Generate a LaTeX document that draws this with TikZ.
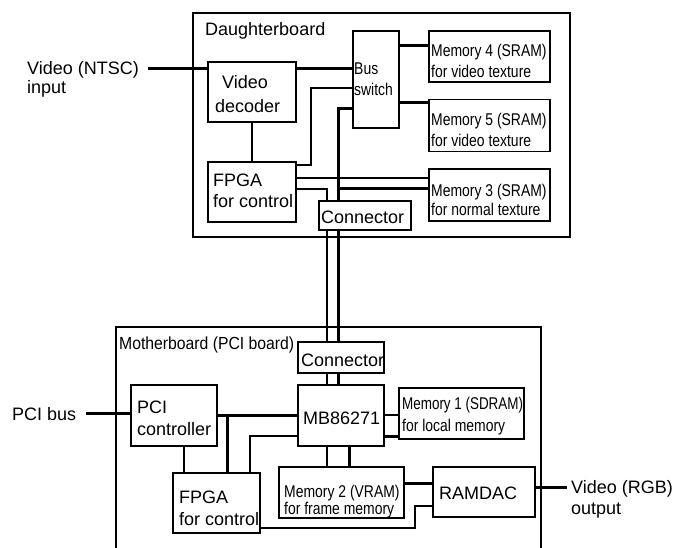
\documentclass[tikz,border=0pt]{standalone}
\usepackage{fontspec}
\setmainfont{Liberation Sans}
\newfontfamily\narrowfont{Liberation Sans}[FakeStretch=0.82]
\newfontfamily\tightfont{Liberation Sans}[FakeStretch=0.79]
\newfontfamily\semifont{Liberation Sans}[FakeStretch=0.9]
\begin{document}
\begin{tikzpicture}[x=1pt,y=-1pt,
  board/.style={draw, line width=1.1pt},
  box/.style={draw, line width=1.1pt, fill=white, rectangle, inner sep=0pt},
  wire/.style={line width=1.1pt},
  bus/.style={line width=3pt},
  txt/.style={anchor=base west, inner sep=0pt, font=\fontsize{18}{20}\selectfont},
  ntxt/.style={anchor=base west, inner sep=0pt, font=\narrowfont\fontsize{17}{19}\selectfont},
  ttxt/.style={anchor=base west, inner sep=0pt, font=\tightfont\fontsize{17}{19}\selectfont},
  stxt/.style={anchor=base west, inner sep=0pt, font=\semifont\fontsize{17.5}{19}\selectfont},
]
\useasboundingbox (0,0) rectangle (688,548);

% boards
\draw[board] (193,13) rectangle (570,237);
\begin{scope}
\clip (0,0) rectangle (688,548);
\draw[board] (116,327) rectangle (541,600);
\end{scope}

% daughterboard boxes
\node[box, minimum width=88pt, minimum height=60pt] (vdec) at (252,92) {};
\node[box, minimum width=46pt, minimum height=97pt] (bsw) at (376,79.5) {};
\node[box, minimum width=121pt, minimum height=51pt] (mem4) at (489.5,56.5) {};
\node[box, minimum width=121pt, minimum height=52pt] (mem5) at (489.5,125.5) {};
\node[box, minimum width=121pt, minimum height=52pt] (mem3) at (489.5,195) {};
\node[box, minimum width=88pt, minimum height=60pt] (fpgad) at (252,192) {};
\node[box, minimum width=92pt, minimum height=29pt] (cond) at (365,215.5) {};

% motherboard boxes
\node[box, minimum width=86pt, minimum height=31pt] (conm) at (341,357.5) {};
\node[box, minimum width=86pt, minimum height=61pt] (mb) at (341,415.5) {};
\node[box, minimum width=86pt, minimum height=61pt] (pci) at (174,415.5) {};
\node[box, minimum width=87pt, minimum height=60pt] (fpgam) at (216.5,503) {};
\node[box, minimum width=125pt, minimum height=51pt] (mem2) at (341.5,492.5) {};
\node[box, minimum width=125pt, minimum height=51pt] (mem1) at (461.5,413.5) {};
\node[box, minimum width=102pt, minimum height=50pt] (ramdac) at (484,492) {};

% free ends
\coordinate (vinend) at (148,69);
\coordinate (pcibusend) at (86,413);
\coordinate (voutend) at (567,487);

% daughterboard connections
\draw[bus] (vinend) -- (vdec.west |- vinend);
\draw[bus] (vdec.east |- 0,69) -- (bsw.west |- 0,69);
\draw[wire] (vdec.south) -- (fpgad.north);
\draw[wire] (fpgad.east |- 0,165) -- (311,165) -- (311,88) -- (bsw.west |- 0,88);
\draw[bus] (bsw.east |- 0,46) -- (mem4.west |- 0,46);
\draw[bus] (bsw.east |- 0,103) -- (mem5.west |- 0,103);
\draw[bus] (bsw.west |- 0,109) -| (cond.north -| 338,0);
\draw[bus] (338,189) -- (mem3.west |- 0,189);
\draw[wire] (fpgad.east |- 0,178) -- (mem3.west |- 0,178);
\draw[wire] (fpgad.east |- 0,189) -| (cond.north -| 327,0);

% between boards
\draw[wire] (cond.south -| 327,0) -- (conm.north -| 327,0);
\draw[bus] (cond.south -| 338,0) -- (conm.north -| 338,0);
\draw[wire] (conm.south -| 327,0) -- (mb.north -| 327,0);
\draw[bus] (conm.south -| 338,0) -- (mb.north -| 338,0);

% motherboard connections
\draw[bus] (pcibusend) -- (pci.west |- pcibusend);
\draw[bus] (pci.east |- 0,415) -- (mb.west |- 0,415);
\draw[bus] (227,415) -- (fpgam.north -| 227,0);
\draw[wire] (pci.south -| 184,0) -- (fpgam.north -| 184,0);
\draw[wire] (fpgam.north -| 250,0) |- (mb.west |- 0,436);
\draw[wire] (mb.east |- 0,415) -- (mem1.west |- 0,415);
\draw[bus] (mb.east |- 0,436) -- (mem1.west |- 0,436);
\draw[wire] (mb.south -| 327,0) -- (mem2.north -| 327,0);
\draw[bus] (mb.south -| 349,0) -- (mem2.north -| 349,0);
\draw[bus] (mem2.east |- 0,483) -- (ramdac.west |- 0,483);
\draw[wire] (fpgam.east |- 0,528) -- (415,528) -- (415,506) -- (ramdac.west |- 0,506);
\draw[bus] (ramdac.east |- voutend) -- (voutend);

% texts
\node[txt] (tdb) at (205,36) {Daughterboard};
\node[txt] (tvin1) at (27,75) {Video (NTSC)};
\node[txt] (tvin2) at (27,94) {input};
\node[txt] (tvdec1) at (222,89) {Video};
\node[txt] (tvdec2) at (215,113) {decoder};
\node[ntxt] (tbsw1) at (354,75) {Bus};
\node[ntxt] (tbsw2) at (354,96) {switch};
\node[ntxt] (tm41) at (431,57) {Memory 4 (SRAM)};
\node[ntxt] (tm42) at (431,78) {for video texture};
\node[ntxt] (tm51) at (431,126) {Memory 5 (SRAM)};
\node[ntxt] (tm52) at (431,147) {for video texture};
\node[ntxt] (tm31) at (431,197) {Memory 3 (SRAM)};
\node[ntxt] (tm32) at (431,215) {for normal texture};
\node[txt] (tfd1) at (213,187) {FPGA};
\node[txt] (tfd2) at (213,208) {for control};
\node[txt] (tcond) at (321,223) {Connector};

\node[stxt] (tmb) at (119,349) {Motherboard (PCI board)};
\node[txt] (tconm) at (301,366) {Connector};
\node[txt] (tpci1) at (137,413) {PCI};
\node[txt] (tpci2) at (137,435) {controller};
\node[txt] (tmbc) at (303,424) {MB86271};
\node[ttxt] (tm11) at (402,409) {Memory 1 (SDRAM)};
\node[ntxt] (tm12) at (402,431) {for local memory};
\node[txt] (tfm1) at (179,503) {FPGA};
\node[txt] (tfm2) at (179,525) {for control};
\node[ntxt] (tm21) at (284,497) {Memory 2 (VRAM)};
\node[ntxt] (tm22) at (284,514) {for frame memory};
\node[txt] (tram) at (439,499) {RAMDAC};
\node[txt] (tvout1) at (571,493) {Video (RGB)};
\node[txt] (tvout2) at (571,514) {output};
\node[txt] (tpcibus) at (12,420) {PCI bus};
\end{tikzpicture}
\end{document}
